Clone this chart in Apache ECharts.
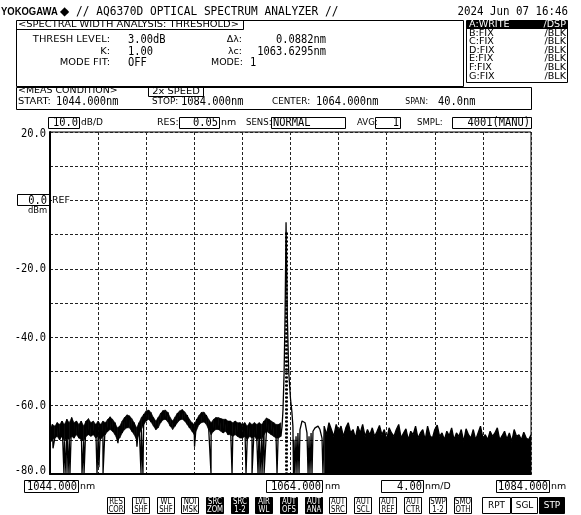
<!DOCTYPE html>
<html><head><meta charset="utf-8">
<script src="https://cdn.jsdelivr.net/npm/echarts/dist/echarts.min.js"></script>
<style>html,body{margin:0;padding:0;background:#fff}#c{width:581px;height:515px}</style>
</head><body><div id="c"></div>
<script>
// ---------- DATA ----------
const X_MIN = 1044, X_MAX = 1084, X_INTERVAL = 4;
const Y_MIN = -80, Y_MAX = 20, Y_INTERVAL = 10;
const yTickValues = [20, -20, -40, -60, -80];
const yTickLabels = ['20.0', '-20.0', '-40.0', '-60.0', '-80.0'];
const refLevelLabel = '0.0';
const xEdgeLabels = ['1044.000', '1064.000', '1084.000'];
const scaleLabel = '4.00';

// left noise band (upper / lower edge), every 0.2 nm from 1044.0 nm (dBm)
const bandLeftStart = 1044.0, bandStep = 0.2;
const bandLeftTop = [
  -67, -65.5, -66, -65, -65.5, -64.5, -65.5, -64, -65, -63.5,
  -65, -64.5, -65.5, -64.5, -66, -64.5, -63.8, -65, -64.5, -65.5,
  -64.5, -65.5, -64.5, -65, -64, -63.3, -64, -65, -66.5, -66,
  -64.5, -63.5, -62.7, -63, -63.8, -65, -66.5, -65, -63.5, -62.5,
  -61.5, -61.3, -62, -63.5, -64.5, -63.5, -62.2, -61.5, -61.3, -62,
  -63.5, -64.5, -63.3, -62.2, -61.5, -61.2, -61.8, -62.8, -64, -65,
  -65.5, -64, -62.8, -62, -61.9, -62.8, -64, -65, -64, -63.5,
  -63.5, -63.8, -64, -64, -64.5, -64.5, -65, -64.5, -65, -65,
  -65.5, -65, -66, -65, -65.5, -65, -65.5, -65, -65.5, -64.5,
  -63.6, -64, -64.5, -65, -65.5, -65.5, -65
];
const bandLeftBottom = [
  -71, -70, -69.5, -69, -70, -69, -70.5, -69.5, -70, -69,
  -69.5, -68.5, -69.5, -70, -70.5, -69, -68.5, -69, -68.5, -69.5,
  -69, -70, -69, -68.5, -67.5, -67, -67.5, -68.5, -70, -69.5,
  -68, -67, -66.5, -66.5, -67.5, -68.5, -70, -68.5, -67, -65.5,
  -64.5, -64, -64.8, -66, -67, -66.5, -65, -64.2, -64, -64.8,
  -66, -67, -66, -65, -64.2, -64, -64.5, -65.5, -66.5, -67.5,
  -68.5, -67, -65.5, -65, -64.8, -65.5, -67, -68.5, -67.5, -67,
  -67, -67.5, -68, -67.5, -68.5, -68.5, -69, -68.5, -69, -69.5,
  -69.5, -69, -70, -69, -69.5, -69, -70, -69.5, -70, -68.5,
  -67.5, -68, -68.5, -69, -69.5, -69.5, -69
];
// deep noise dips in the left half [nm, dBm]
const dipsLeft = [
  [1044.25, -72.5], [1045.16, -80], [1045.33, -80], [1045.50, -80], [1045.66, -80],
  [1046.66, -80], [1046.83, -80], [1047.91, -80], [1048.07, -78], [1048.41, -80],
  [1048.57, -80], [1049.65, -71], [1051.23, -72], [1051.57, -80], [1051.73, -80],
  [1056.02, -72], [1057.39, -80], [1059.14, -80], [1060.30, -80], [1060.80, -80],
  [1061.30, -80], [1061.46, -80], [1061.63, -80], [1061.80, -80], [1061.96, -80],
  [1062.88, -80]
];
// laser peak [nm, dBm]
const peakPairs = [
  [1063.30, -66], [1063.38, -61], [1063.47, -50], [1063.55, -33], [1063.60, -17],
  [1063.63, -6.4], [1063.67, -17], [1063.73, -33], [1063.85, -50], [1064.00, -58],
  [1064.12, -62], [1064.20, -66], [1064.25, -80]
];
// side lobes right of the peak [nm, dBm]
const lobePairs = [
  [1064.29, -70], [1064.37, -80], [1064.46, -69], [1064.54, -80], [1064.62, -68],
  [1064.71, -80], [1064.79, -67], [1064.96, -64.5], [1065.04, -64.2], [1065.21, -65],
  [1065.37, -68], [1065.46, -80], [1065.54, -69], [1065.62, -80], [1065.71, -68],
  [1065.79, -80], [1065.87, -67.5], [1066.04, -66.5], [1066.29, -66], [1066.45, -67],
  [1066.62, -69.5], [1066.70, -80]
];
// right noise floor, every 0.2 nm from 1066.8 nm (dBm)
const bandRightStart = 1066.8;
const bandRightDb = [
  -66, -68.5, -65, -67, -69, -65.5, -67.5, -66, -69, -66.5,
  -65, -68, -67, -69.5, -66, -68, -65.5, -69, -67, -68.5,
  -66.5, -69, -67.5, -65.8, -68.5, -67, -70, -66.5, -68, -69,
  -67, -65.5, -69.5, -68, -66.8, -70, -67.5, -68.5, -66, -69.5,
  -68, -67, -70, -66, -68.8, -69.5, -67, -65.7, -69, -68,
  -70, -67.5, -68.8, -66.5, -70, -68, -69, -67, -70.5, -66.8,
  -68.5, -69.5, -67, -70, -68, -66, -69.5, -68.5, -70, -67.5,
  -69, -68, -66.5, -70, -68.8, -67.5, -69.8, -68, -70.5, -67,
  -69, -68.5, -70, -67.8, -69.5, -70, -68.5
];
// threshold analysis markers
const markerWl = [1063.585, 1063.674];
const thresholdDb = -9.4;

// ---------- BUILD SERIES ----------
const wlLeft = bandLeftTop.map((v, i) => +(bandLeftStart + bandStep * i).toFixed(2));
const bandItems = [];
for (let i = 0; i < wlLeft.length - 1; i++) {
  bandItems.push([wlLeft[i], bandLeftTop[i], bandLeftBottom[i], wlLeft[i + 1], bandLeftTop[i + 1], bandLeftBottom[i + 1]]);
}
const traceData = wlLeft.map((w, i) => [w, i % 2 ? bandLeftTop[i] : bandLeftBottom[i]]);
dipsLeft.forEach(p => traceData.push(p));
traceData.sort((a, b) => a[0] - b[0]);
peakPairs.forEach(p => traceData.push(p));
lobePairs.forEach(p => traceData.push(p));
const rightData = bandRightDb.map((v, i) => [+(bandRightStart + bandStep * i).toFixed(2), v]);
rightData.forEach(p => traceData.push(p));

const chart = echarts.init(document.getElementById('c'));
const gridLine = { color: '#222', type: [3, 2], width: 1 };
chart.setOption({
  animation: false,
  grid: { left: 50, right: 50, top: 132, bottom: 41, show: true, borderColor: '#000', borderWidth: 1 },
  xAxis: { type: 'value', min: X_MIN, max: X_MAX, interval: X_INTERVAL,
    axisLine: { onZero: false, lineStyle: { color: '#000', width: 2 } },
    axisTick: { show: false }, axisLabel: { show: false },
    splitLine: { show: true, lineStyle: gridLine } },
  yAxis: { type: 'value', min: Y_MIN, max: Y_MAX, interval: Y_INTERVAL,
    axisLine: { show: true, lineStyle: { color: '#000', width: 2 } },
    axisTick: { show: false }, axisLabel: { show: false },
    splitLine: { show: true, lineStyle: gridLine } },
  series: [
    { type: 'custom', silent: true, z: 2, data: bandItems,
      encode: { x: [0, 3], y: [1, 2, 4, 5] },
      renderItem: function (params, api) {
        const a = api.coord([api.value(0), api.value(1)]);
        const b = api.coord([api.value(3), api.value(4)]);
        const c = api.coord([api.value(3), api.value(5)]);
        const d = api.coord([api.value(0), api.value(2)]);
        return { type: 'polygon', shape: { points: [a, b, c, d] }, style: { fill: '#000', stroke: '#000', lineWidth: 0.6 } };
      } },
    { type: 'line', data: rightData, showSymbol: false, silent: true, z: 2,
      lineStyle: { width: 0 }, areaStyle: { color: '#000', opacity: 1, origin: 'start' } },
    { type: 'line', data: traceData, showSymbol: false, silent: true, z: 3,
      lineStyle: { color: '#000', width: 1.3 },
      markLine: { silent: true, symbol: ['none', 'none'], label: { show: false },
        lineStyle: { color: '#000', type: 'dotted', width: 2 },
        data: markerWl.map(w => [{ coord: [w, thresholdDb] }, { coord: [w, Y_MIN] }]) } }
  ]
});

// ---------- SCREEN ANNOTATIONS ----------
const MONO = '"DejaVu Sans Mono", monospace';
const SANS = '"DejaVu Sans", sans-serif';
const G = [];
function big(x, y, s, align, sx, fill) {
  G.push({ type: 'text', x: x, y: y, scaleX: sx || 0.8, z: 100,
    style: { text: s, font: '13px ' + MONO, fill: fill || '#000', align: align || 'left', textAlign: align || 'left',
      verticalAlign: 'middle', textVerticalAlign: 'middle' } });
}
function sm(x, y, s, align, size, fill, sx, extra) {
  G.push({ type: 'text', x: x, y: y, z: 100, scaleX: sx || 1.05,
    style: Object.assign({ text: s, font: (size || 9) + 'px ' + SANS, fill: fill || '#000', align: align || 'left', textAlign: align || 'left',
      verticalAlign: 'middle', textVerticalAlign: 'middle' }, extra || {}) });
}
function rect(x, y, w, h, fill, lw) {
  G.push({ type: 'rect', z: 99, shape: { x: x, y: y, width: w, height: h },
    style: { fill: fill || 'none', stroke: '#000', lineWidth: lw || 1 } });
}
function line(x1, y1, x2, y2, lw) {
  G.push({ type: 'line', z: 99, shape: { x1: x1, y1: y1, x2: x2, y2: y2 }, style: { stroke: '#000', lineWidth: lw || 1 } });
}

// header
G.push({ type: 'text', x: 1, y: 12, scaleX: 0.86, z: 100,
  style: { text: 'YOKOGAWA', font: 'bold 11px "Liberation Sans", Arial, sans-serif', fill: '#000', verticalAlign: 'middle', textVerticalAlign: 'middle' } });
sm(60, 11.5, '◆', 'left', 12, '#000', 1);
big(76, 12, '// AQ6370D OPTICAL SPECTRUM ANALYZER //', 'left', 0.86);
big(568, 12, '2024 Jun 07 16:46', 'right', 0.83);

// analysis box
rect(16.5, 20.5, 447, 66);
line(16, 29.5, 243.5, 29.5);
line(243.5, 20.5, 243.5, 29.5);
sm(18, 25, '<SPECTRAL WIDTH ANALYSIS: THRESHOLD>', 'left', 8.6, '#000', 1.15);
sm(110, 39.5, 'THRESH LEVEL:', 'right', 9, '#000', 1.1);
big(128, 39.5, '3.00dB');
sm(242, 39.5, 'Δλ:', 'right', 9);
big(326, 39.5, '0.0882nm', 'right');
sm(110, 51.5, 'K:', 'right', 9, '#000', 1.1);
big(128, 51.5, '1.00');
sm(242, 51.5, 'λc:', 'right', 9);
big(326, 51.5, '1063.6295nm', 'right');
sm(110, 63, 'MODE FIT:', 'right', 9, '#000', 1.1);
big(128, 63, 'OFF');
sm(243, 63, 'MODE:', 'right', 9, '#000', 1.05);
big(250, 63, '1');

// trace table
rect(466.5, 20.5, 101, 62);
G.push({ type: 'rect', z: 99, shape: { x: 467, y: 21, width: 100, height: 8 }, style: { fill: '#000' } });
const traceRows = [['A:WRITE', '/DSP'], ['B:FIX', '/BLK'], ['C:FIX', '/BLK'], ['D:FIX', '/BLK'], ['E:FIX', '/BLK'], ['F:FIX', '/BLK'], ['G:FIX', '/BLK']];
traceRows.forEach((r, i) => {
  const y = 25 + i * 8.6;
  const f = i === 0 ? '#fff' : '#000';
  sm(469, y, r[0], 'left', 8, f, 1.2);
  sm(566, y, r[1], 'right', 8, f, 1.2);
});

// meas condition box
rect(16.5, 87.5, 515, 22);
sm(18, 91, '<MEAS CONDITION>', 'left', 8.6, '#000', 1.1);
rect(148.5, 87.5, 55, 9);
sm(176, 92, '2x SPEED', 'center', 8.6, '#000', 1.15);
sm(18, 102, 'START:', 'left', 9, '#000', 1.1);
big(56, 102, '1044.000nm');
sm(152, 102, 'STOP:', 'left', 9, '#000', 0.98);
big(181, 102, '1084.000nm');
sm(272, 102, 'CENTER:', 'left', 9, '#000', 0.98);
big(316, 102, '1064.000nm');
sm(428, 102, 'SPAN:', 'right', 8.6, '#000', 0.9);
big(438, 102, '40.0nm');

// settings row
rect(48.5, 117.5, 31, 11); big(78, 123, '10.0', 'right'); sm(81, 123, 'dB/D', 'left', 8.6);
sm(157, 123, 'RES:', 'left', 9); rect(179.5, 117.5, 40, 11); big(218, 123, '0.05', 'right'); sm(221, 123, 'nm', 'left', 9);
sm(246, 123, 'SENS:', 'left', 9, '#000', 0.95); rect(271.5, 117.5, 74, 11); big(273, 123, 'NORMAL');
sm(357, 123, 'AVG:', 'left', 9, '#000', 0.95); rect(375.5, 117.5, 25, 11); big(399, 123, '1', 'right');
sm(417, 123, 'SMPL:', 'left', 9, '#000', 0.95); rect(452.5, 117.5, 79, 11); big(530, 123, '4001(MANU)', 'right');

// y labels via axis scale
yTickValues.forEach((v, i) => {
  const p = chart.convertToPixel({ xAxisIndex: 0, yAxisIndex: 0 }, [X_MIN, v]);
  let dy = 0; if (v === Y_MAX) dy = 2; if (v === Y_MIN) dy = -3;
  big(p[0] - 4, p[1] + dy, yTickLabels[i], 'right');
});
const pRef = chart.convertToPixel({ xAxisIndex: 0, yAxisIndex: 0 }, [X_MIN, 0]);
rect(17.5, Math.round(pRef[1]) - 5.5, 32, 11);
big(47, pRef[1], refLevelLabel, 'right');
sm(52, pRef[1], 'REF', 'left', 8.6, '#000', 1.1, { backgroundColor: '#fff' });
sm(28, pRef[1] + 11, 'dBm', 'left', 8);

// bottom wavelength labels
rect(24.5, 480.5, 54, 12); big(77, 486.5, xEdgeLabels[0], 'right'); sm(80, 486.5, 'nm', 'left', 9);
rect(266.5, 480.5, 56, 12); big(321, 486.5, xEdgeLabels[1], 'right'); sm(325, 486.5, 'nm', 'left', 9);
rect(381.5, 480.5, 42, 12); big(422, 486.5, scaleLabel, 'right'); sm(425, 486.5, 'nm/D', 'left', 9);
rect(496.5, 480.5, 53, 12); big(548, 486.5, xEdgeLabels[2], 'right'); sm(551, 486.5, 'nm', 'left', 9);

// soft keys
const keys = [['RES','COR',0],['LVL','SHF',0],['WL','SHF',0],['NOI','MSK',0],['SRC','ZOM',1],['SRC','1-2',1],['AIR','WL',1],['AUT','OFS',1],
  ['AUT','ANA',1],['AUT','SRC',0],['AUT','SCL',0],['AUT','REF',0],['AUT','CTR',0],['SWP','1-2',0],['SMO','OTH',0]];
const keyX = [107,132,157,181,206,231,255,280,305,329,354,379,404,429,454];
keys.forEach((k, i) => {
  const x = keyX[i];
  rect(x + 0.5, 497.5, 17, 16, k[2] ? '#000' : '#fff');
  const f = k[2] ? '#fff' : '#000';
  sm(x + 9, 501.8, k[0], 'center', 8.2, f, 0.85);
  sm(x + 9, 509.4, k[1], 'center', 8.2, f, 0.85);
});
rect(482.5, 497.5, 28, 16); sm(496.5, 505.5, 'RPT', 'center', 8.5);
rect(511.5, 497.5, 26, 16); sm(524.5, 505.5, 'SGL', 'center', 8.5);
rect(539.5, 497.5, 25, 16, '#000'); sm(552, 505.5, 'STP', 'center', 8.5, '#fff');

chart.setOption({ graphic: { elements: G } });
</script></body></html>
